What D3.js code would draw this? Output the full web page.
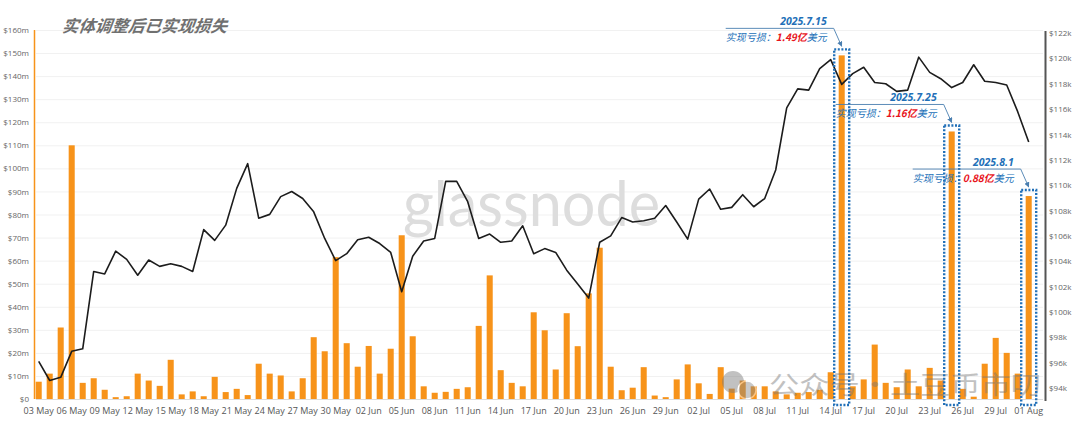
<!DOCTYPE html>
<html><head><meta charset="utf-8">
<script src="https://cdn.jsdelivr.net/npm/d3@7"></script>
<style>html,body{margin:0;padding:0;background:#fff;} svg{display:block;}</style>
</head><body><svg id="c" width="1080" height="431"></svg>
<script>
// ---- data ----
const firstDay = "2025-05-03";
const lastDay = "2025-08-01";
// Entity-adjusted realized loss, $ millions (one per day)
const lossValues = [
  7.5, 11, 31, 110, 7, 9, 4, 0.8, 1.2, 11,
  8, 5.7, 17, 2, 3.3, 1.2, 9.6, 3, 4.4, 1.7,
  15.3, 11, 10.2, 3.3, 9, 26.8, 20.7, 61.5, 24.2, 14,
  23, 11, 21.8, 71, 27.2, 5.5, 2.7, 3.1, 4.4, 5.1,
  31.7, 53.6, 12.5, 7, 5.5, 37.6, 29.8, 12.8, 37.2, 22.9,
  45.8, 65.6, 14, 3.8, 4.9, 13.8, 1.5, 0.8, 8.5, 15,
  6.8, 2.2, 13.8, 4.5, 8, 5.5, 5.5, 3.3, 2, 2.7,
  3, 4, 11.6, 149, 5.5, 8.5, 23.6, 7, 5.1, 12.8,
  5.5, 13.5, 8, 116, 4.4, 1, 15.3, 26.5, 20, 11,
  88
];
// BTC price, $ thousands
const priceValues = [
  96.1, 94.6, 94.85, 96.9, 97.1, 103.2, 103.0, 104.8, 104.15, 102.9,
  104.1, 103.6, 103.8, 103.6, 103.2, 106.5, 105.65, 106.85, 109.75, 111.7,
  107.4, 107.7, 109.1, 109.5, 108.95, 107.9, 105.8, 104.05, 104.6, 105.7,
  105.9, 105.4, 104.7, 101.6, 104.4, 105.6, 105.8, 110.3, 110.3, 108.7,
  105.8, 106.15, 105.5, 105.6, 106.8, 104.6, 105.0, 104.7, 103.3, 102.2,
  101.1, 105.5, 106.0, 107.45, 107.1, 107.2, 107.4, 108.4, 107.1, 105.75,
  108.9, 109.7, 108.1, 108.25, 109.25, 108.3, 108.95, 111.2, 116.1, 117.6,
  117.5, 119.2, 119.9, 117.95, 118.8, 119.3, 118.1, 118.0, 117.4, 117.5,
  120.1, 118.9, 118.4, 117.7, 118.1, 119.5, 118.2, 118.1, 117.9, 115.8,
  113.4
];
const xTickLabels = ["03 May","06 May","09 May","12 May","15 May","18 May","21 May","24 May","27 May","30 May",
  "02 Jun","05 Jun","08 Jun","11 Jun","14 Jun","17 Jun","20 Jun","23 Jun","26 Jun","29 Jun",
  "02 Jul","05 Jul","08 Jul","11 Jul","14 Jul","17 Jul","20 Jul","23 Jul","26 Jul","29 Jul","01 Aug"];
const leftTicks = [0,10,20,30,40,50,60,70,80,90,100,110,120,130,140,150,160];
const rightTicks = [94,96,98,100,102,104,106,108,110,112,114,116,118,120,122];
const noteDates = ["2025-07-15","2025-07-25","2025-08-01"];
const noteTitles = ["2025.7.15","2025.7.25","2025.8.1"];
const noteAmounts = ["1.49亿","1.16亿","0.88亿"];
const titleText = "实体调整后已实现损失";

// ---- setup ----
const parse = d3.timeParse("%Y-%m-%d");
const days = d3.timeDay.range(parse(firstDay), d3.timeDay.offset(parse(lastDay), 1));
const data = days.map((d, i) => ({date: d, loss: lossValues[i], price: priceValues[i]}));
const svg = d3.select("#c");
const FONT = "'Open Sans','Noto Sans',sans-serif";
const CJK = "'Noto Sans CJK SC',sans-serif";

const x = d3.scaleBand().domain(days).range([33.2, 1034.2]).paddingInner(0.45).paddingOuter(0.225);
const yL = d3.scaleLinear().domain([0, 160]).range([399, 30]);
const yR = d3.scaleLinear().domain([93.14, 122.24]).range([399, 30]);
const cx = d => x(d) + x.bandwidth() / 2;

// gridlines
svg.append("g").selectAll("line").data(leftTicks).join("line")
  .attr("x1", 36).attr("x2", 1043)
  .attr("y1", d => yL(d) + 0.5).attr("y2", d => yL(d) + 0.5)
  .attr("stroke", d => d === 0 ? "#dcdcdc" : "#f1f1f1").attr("stroke-width", 1);

// watermark glassnode
svg.append("text").attr("x", 403).attr("y", 226).text("glassnode")
  .attr("font-family", "'Lato','Open Sans',sans-serif").attr("font-size", 62)
  .attr("textLength", 257).attr("lengthAdjust", "spacingAndGlyphs")
  .attr("fill", "#dddddd");

// title
svg.append("text").attr("x", 62).attr("y", 32).text(titleText)
  .attr("font-family", CJK).attr("font-weight", "bold").attr("font-style", "italic")
  .attr("font-size", 16.5).attr("fill", "#707070")
  .attr("transform", "skewX(-8) translate(4,0)");

// left axis
const gL = svg.append("g").attr("transform", "translate(30,0)")
  .call(d3.axisLeft(yL).tickValues(leftTicks).tickSize(0).tickPadding(1)
    .tickFormat(d => d === 0 ? "$0" : "$" + d + "m"));
gL.select(".domain").remove();
gL.selectAll("text").attr("font-family", FONT).attr("font-size", 8).attr("fill", "#666");
svg.append("line").attr("x1", 34.5).attr("x2", 34.5).attr("y1", 30).attr("y2", 399)
  .attr("stroke", "#F7931A").attr("stroke-width", 1.5);

// right axis
const gR = svg.append("g").attr("transform", "translate(1047,0)")
  .call(d3.axisRight(yR).tickValues(rightTicks).tickSize(0).tickPadding(2)
    .tickFormat(d => "$" + d + "k"));
gR.select(".domain").remove();
gR.selectAll("text").attr("font-family", FONT).attr("font-size", 8).attr("fill", "#666");
svg.append("line").attr("x1", 1045.5).attr("x2", 1045.5).attr("y1", 31).attr("y2", 401)
  .attr("stroke", "#555").attr("stroke-width", 2);

// x axis
const tickDays = days.filter((d, i) => i % 3 === 0);
const gX = svg.append("g").attr("transform", "translate(0,405)")
  .call(d3.axisBottom(x).tickValues(tickDays).tickSize(0).tickPadding(3)
    .tickFormat((d, i) => xTickLabels[i]));
gX.select(".domain").remove();
gX.selectAll("text").attr("font-family", FONT).attr("font-size", 9).attr("fill", "#555");

// bars
svg.append("g").selectAll("rect").data(data).join("rect")
  .attr("x", d => x(d.date)).attr("width", x.bandwidth())
  .attr("y", d => yL(d.loss)).attr("height", d => yL(0) - yL(d.loss))
  .attr("fill", "#F7931A");

// price line
svg.append("path").datum(data)
  .attr("d", d3.line().x(d => cx(d.date)).y(d => yR(d.price)))
  .attr("fill", "none").attr("stroke", "#1c1c1c").attr("stroke-width", 1.6)
  .attr("stroke-linejoin", "round");

// wechat watermark
const wm = svg.append("g").attr("opacity", 0.45);
wm.append("circle").attr("cx", 733).attr("cy", 382).attr("r", 11).attr("fill", "#777");
wm.append("circle").attr("cx", 747).attr("cy", 390).attr("r", 9).attr("fill", "#888").attr("stroke", "#fff").attr("stroke-width", 1.5);
wm.append("text").attr("x", 769).attr("y", 394).text("公众号·土豆币市叨")
  .attr("font-family", CJK).attr("font-size", 25).attr("fill", "#777")
  .attr("textLength", 272).attr("lengthAdjust", "spacingAndGlyphs");

// annotations
const BLUE = "#2270b8";
svg.append("defs").append("marker").attr("id", "arr").attr("viewBox", "0 0 10 10")
  .attr("refX", 9).attr("refY", 5).attr("markerWidth", 6).attr("markerHeight", 6)
  .attr("orient", "auto").append("path").attr("d", "M0,0L10,5L0,10z").attr("fill", "#4a7fb0");

noteDates.forEach((ds, k) => {
  const d = parse(ds);
  const rec = data.find(r => +r.date === +d);
  const c = cx(d);
  const boxTop = yL(rec.loss) - 6;
  const ly = boxTop - 21;
  const g = svg.append("g");
  g.append("rect").attr("x", c - 7.5).attr("y", boxTop).attr("width", 15).attr("height", 405 - boxTop)
    .attr("fill", "none").attr("stroke", BLUE).attr("stroke-width", 2.4).attr("stroke-dasharray", "2,1.6");
  g.append("path").attr("d", `M${c - 116},${ly}L${c - 8},${ly}L${c},${boxTop - 3}`)
    .attr("fill", "none").attr("stroke", "#4a7fb0").attr("stroke-width", 0.9).attr("marker-end", "url(#arr)");
  g.append("text").attr("x", c - 15).attr("y", ly - 3).attr("text-anchor", "end")
    .attr("font-family", FONT).attr("font-weight", "bold").attr("font-style", "italic")
    .attr("font-size", 10.5).attr("fill", BLUE).text(noteTitles[k]);
  const t = g.append("text").attr("x", c - 15).attr("y", ly + 13).attr("text-anchor", "end")
    .attr("font-family", CJK).attr("font-size", 10).attr("font-style", "italic");
  t.append("tspan").attr("fill", BLUE).text("实现亏损：");
  t.append("tspan").attr("fill", "#e8141c").attr("font-weight", "bold").text(noteAmounts[k]);
  t.append("tspan").attr("fill", BLUE).text("美元");
});
</script></body></html>
